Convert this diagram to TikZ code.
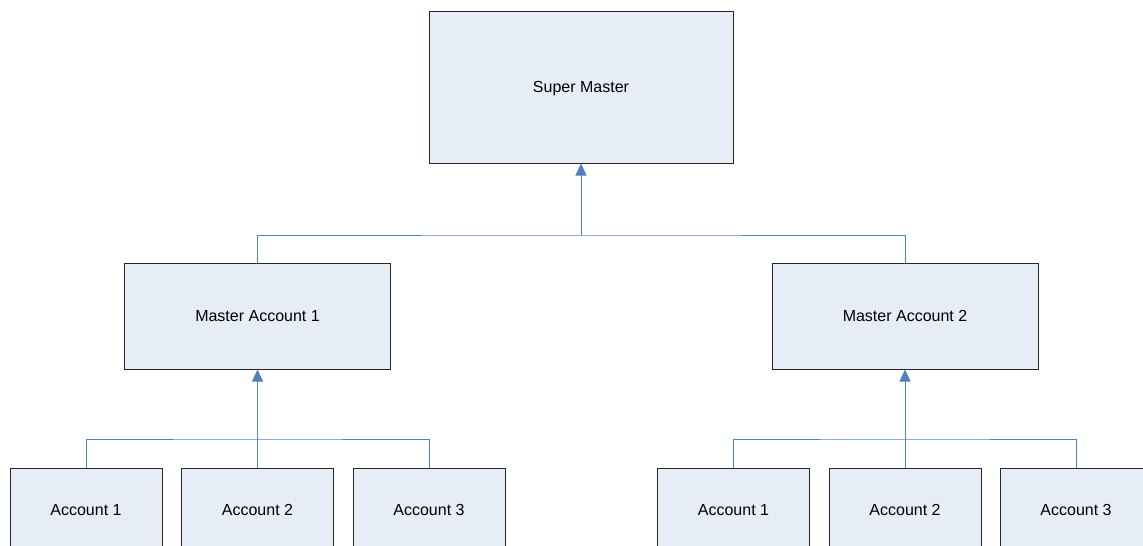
\documentclass[tikz,border=0pt]{standalone}
\usepackage{fontspec}
\setmainfont{Liberation Sans}
\usepackage{tikz}
\usetikzlibrary{arrows.meta}

\definecolor{boxfill}{HTML}{E7EDF7}
\definecolor{linkblue}{HTML}{4F81BD}

\tikzset{
  acct/.style={draw=black!85,fill=boxfill,line width=1pt,rectangle,inner sep=0pt,
    text depth=0pt,font=\fontsize{16}{19}\selectfont},
  link/.style={color=linkblue,line width=1pt},
  up/.style={link,-{Triangle[length=12pt,width=11pt]}}
}

\begin{document}
\begin{tikzpicture}[x=1pt,y=-1pt]
      \useasboundingbox (0,0) rectangle (1143,546);

      \node[acct,minimum width=304pt,minimum height=152pt] (sm) at (581,87) {Super Master};

      \node[acct,minimum width=266pt,minimum height=106pt] (m1) at (257.5,316) {Master Account 1};
      \node[acct,minimum width=266pt,minimum height=106pt] (m2) at (905,316) {Master Account 2};

      \node[acct,minimum width=152pt,minimum height=84pt] (a11) at (86,510) {Account 1};
      \node[acct,minimum width=152pt,minimum height=84pt] (a12) at (257.5,510) {Account 2};
      \node[acct,minimum width=152pt,minimum height=84pt] (a13) at (429,510) {Account 3};

      \node[acct,minimum width=152pt,minimum height=84pt] (a21) at (733.5,510) {Account 1};
      \node[acct,minimum width=152pt,minimum height=84pt] (a22) at (905,510) {Account 2};
      \node[acct,minimum width=152pt,minimum height=84pt] (a23) at (1076,510) {Account 3};

      \coordinate (j0) at (581,235);
      \coordinate (j1) at (257.5,439);
      \coordinate (j2) at (905,439);

      \draw[link] (m1.north) |- (j0) -| (m2.north);
      \draw[link] (a11.north) |- (j1) -| (a13.north);
      \draw[link] (a21.north) |- (j2) -| (a23.north);
      \draw[link] (a12.north) -- (j1);
      \draw[link] (a22.north) -- (j2);
      \draw[up] (j0) -- (sm.south);
      \draw[up] (j1) -- (m1.south);
      \draw[up] (j2) -- (m2.south);
    \end{tikzpicture}
\end{document}
